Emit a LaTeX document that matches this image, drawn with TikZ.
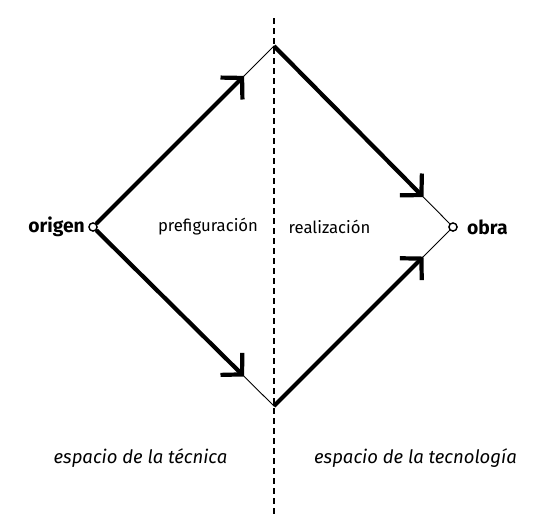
\documentclass[tikz,border=0pt]{standalone}
\usepackage{fontspec}
\setmainfont{Fira Sans}
\usetikzlibrary{arrows.meta,positioning,calc}

\begin{document}
\begin{tikzpicture}[x=1pt,y=-1pt,font=\fontsize{16.7}{19}\selectfont,punto/.style={circle,draw=black,fill=white,line width=1.3pt,inner sep=0pt,minimum size=8pt},fino/.style={line width=0.9pt},grueso/.style={line width=4.2pt,-{Straight Barb[length=15pt,width=31pt,line cap=butt,line join=miter]}},eje/.style={line width=2pt,dash pattern=on 6pt off 4pt},espacio/.style={font=\fontsize{18.5}{21}\selectfont\itshape}]
		\useasboundingbox (0,0) rectangle (551,531);
		\node[punto] (origen) at (93,227) {};
		\node[punto] (obra) at (453,227) {};
		\coordinate (arriba) at (274,46);
		\coordinate (abajo) at (274,406);
		\coordinate (cima) at (273.5,18);
		\coordinate (pie) at (273.5,516);
		\coordinate (p1) at ($(origen)!0.835!(arriba)$);
		\coordinate (p2) at ($(origen)!0.835!(abajo)$);
		\coordinate (p3) at ($(arriba)!0.835!(obra)$);
		\coordinate (p4) at ($(abajo)!0.835!(obra)$);

		\node[left=0pt of origen,font=\fontsize{19.3}{22}\selectfont\bfseries] (torigen) {origen};
		\node[right=6pt of obra,font=\fontsize{19.3}{22}\selectfont\bfseries] (tobra) {obra};
		\node (prefiguracion) at (208,227) {prefiguración};
		\node (realizacion) at (329.5,227) {realización};
		\node[espacio] (tecnica) at (140.5,458) {espacio de la técnica};
		\node[espacio] (tecnologia) at (415.5,458) {espacio de la tecnología};

		\draw[eje] (cima) -- (pie);
		\draw[fino] (origen) -- (arriba) -- (obra);
		\draw[fino] (origen) -- (abajo) -- (obra);
		\draw[grueso] (origen) -- (p1);
		\draw[grueso] (origen) -- (p2);
		\draw[grueso] (arriba) -- (p3);
		\draw[grueso] (abajo) -- (p4);
		\node[punto] at (origen) {};
		\node[punto] at (obra) {};
\end{tikzpicture}
\end{document}
